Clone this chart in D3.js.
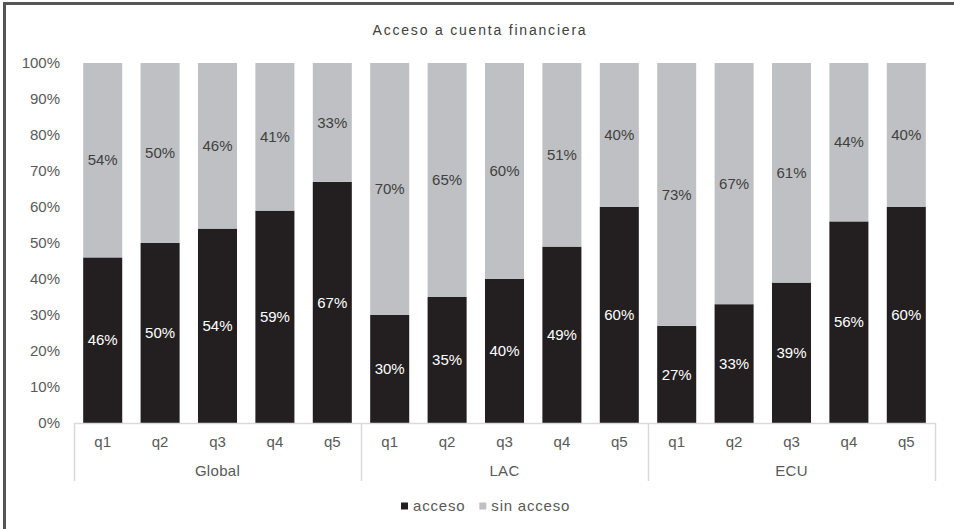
<!DOCTYPE html>
<html>
<head>
<meta charset="utf-8">
<script src="https://cdn.jsdelivr.net/npm/d3@7"></script>
<style>
    body { margin: 0; background: #fff; }
    text { font-family: "Liberation Sans", Arial, sans-serif; }
</style>
</head>
<body>
<div id="chart"></div>
<script>
// data
const groups = ["Global", "LAC", "ECU"];
const quintiles = ["q1", "q2", "q3", "q4", "q5"];
const acceso = [46, 50, 54, 59, 67, 30, 35, 40, 49, 60, 27, 33, 39, 56, 60];
const sinAcceso = [54, 50, 46, 41, 33, 70, 65, 60, 51, 40, 73, 67, 61, 44, 40];
const yTicks = [0, 10, 20, 30, 40, 50, 60, 70, 80, 90, 100];
const seriesNames = ["acceso", "sin acceso"];
const colors = ["#231f20", "#bfc0c3"];

// build rows
let rows = [];
groups.forEach((g, gi) => {
    quintiles.forEach((q, qi) => {
        let i = gi * quintiles.length + qi;
        rows.push({key: g + "-" + q, group: g, q: q, acceso: acceso[i], sin: sinAcceso[i]});
    });
});

const W = 954, H = 529;
const plot = {left: 74, right: 935, top: 63, bottom: 423};
const fs = 15;

let svg = d3.select("#chart").append("svg")
    .attr("width", W)
    .attr("height", H);

// frame (only left/top visible)
svg.append("rect")
    .attr("x", 4.5).attr("y", 3.5)
    .attr("width", W + 10).attr("height", H + 10)
    .attr("fill", "none")
    .attr("stroke", "#555")
    .attr("stroke-width", 3);

// title
svg.append("text")
    .attr("x", 480).attr("y", 35)
    .attr("text-anchor", "middle")
    .attr("font-size", 14)
    .attr("letter-spacing", 1.8)
    .attr("fill", "#404040")
    .text("Acceso a cuenta financiera");

// scales
let x = d3.scaleBand()
    .domain(rows.map(d => d.key))
    .range([plot.left, plot.right])
    .paddingInner(0.32)
    .paddingOuter(0.16);

let y = d3.scaleLinear()
    .domain([0, 100])
    .range([plot.bottom, plot.top]);

// y axis labels
let yAxis = d3.axisLeft(y)
    .tickValues(yTicks)
    .tickFormat(d => d + "%")
    .tickSize(0)
    .tickPadding(14);

let yg = svg.append("g")
    .attr("transform", `translate(${plot.left},0)`)
    .call(yAxis);
yg.select(".domain").remove();
yg.selectAll("text")
    .attr("font-size", fs)
    .attr("fill", "#595959");

// stacked bars
let stack = d3.stack().keys(["acceso", "sin"]);
let layers = stack(rows);

layers.forEach((layer, li) => {
    svg.append("g")
        .selectAll("rect")
        .data(layer)
        .enter()
        .append("rect")
        .attr("x", d => x(d.data.key))
        .attr("y", d => y(d[1]))
        .attr("width", x.bandwidth())
        .attr("height", d => y(d[0]) - y(d[1]))
        .attr("fill", colors[li]);

    svg.append("g")
        .selectAll("text")
        .data(layer)
        .enter()
        .append("text")
        .attr("x", d => x(d.data.key) + x.bandwidth() / 2)
        .attr("y", d => y((d[0] + d[1]) / 2))
        .attr("dy", "0.35em")
        .attr("text-anchor", "middle")
        .attr("font-size", fs)
        .attr("fill", li === 0 ? "#ffffff" : "#404040")
        .text(d => (d[1] - d[0]) + "%");
});

// x axis
let axisColor = "#d9d9d9";
svg.append("line")
    .attr("x1", plot.left).attr("x2", plot.right)
    .attr("y1", plot.bottom + 0.5).attr("y2", plot.bottom + 0.5)
    .attr("stroke", axisColor).attr("stroke-width", 1.5);

let groupW = x.step() * quintiles.length;
d3.range(groups.length + 1).forEach(i => {
    let gx = Math.round(plot.left + i * groupW) + 0.5;
    svg.append("line")
        .attr("x1", gx).attr("x2", gx)
        .attr("y1", plot.bottom).attr("y2", 481)
        .attr("stroke", axisColor).attr("stroke-width", 1.5);
});

svg.append("g")
    .selectAll("text")
    .data(rows)
    .enter()
    .append("text")
    .attr("x", d => x(d.key) + x.bandwidth() / 2)
    .attr("y", 442)
    .attr("dy", "0.35em")
    .attr("text-anchor", "middle")
    .attr("font-size", fs)
    .attr("fill", "#595959")
    .text(d => d.q);

svg.append("g")
    .selectAll("text")
    .data(groups)
    .enter()
    .append("text")
    .attr("x", (d, i) => plot.left + (i + 0.5) * groupW)
    .attr("y", 471)
    .attr("dy", "0.35em")
    .attr("text-anchor", "middle")
    .attr("font-size", fs)
    .attr("letter-spacing", 0.3)
    .attr("fill", "#595959")
    .text(d => d);

// legend
let legend = svg.append("g").attr("transform", "translate(401,506)");
let lx = 0;
seriesNames.forEach((name, i) => {
    let item = legend.append("g").attr("transform", `translate(${lx},0)`);
    item.append("rect")
        .attr("x", 0).attr("y", -3.5)
        .attr("width", 7).attr("height", 7)
        .attr("fill", colors[i]);
    let t = item.append("text")
        .attr("x", 12).attr("y", 0)
        .attr("dy", "0.35em")
        .attr("font-size", fs)
        .attr("letter-spacing", 0.8)
        .attr("fill", "#595959")
        .text(name);
    lx += 12 + t.node().getComputedTextLength() + 14;
});
</script>
</body>
</html>
